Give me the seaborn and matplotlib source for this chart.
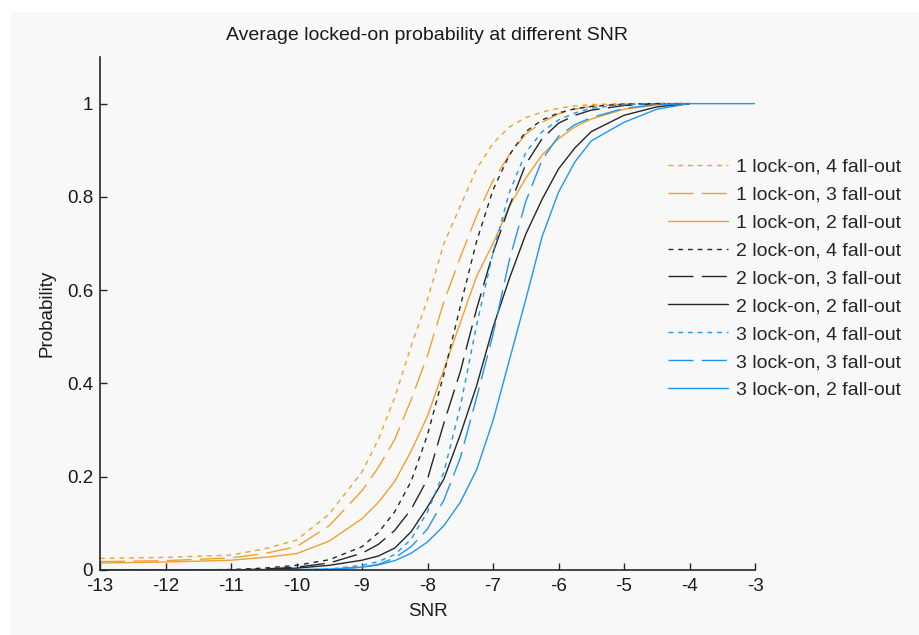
import matplotlib
matplotlib.use("Agg")
import matplotlib.pyplot as plt
from matplotlib.patches import Rectangle
import seaborn as sns
import pandas as pd

sns.set_theme(style="white")
plt.rcParams["font.family"] = ["Liberation Sans", "DejaVu Sans"]

# SNR grid (dB) shared by all curves; the last curve runs on to -3
snr = [-13, -12, -11, -10.5, -10, -9.5, -9, -8.75, -8.5, -8.25, -8, -7.75, -7.5,
       -7.25, -7, -6.75, -6.5, -6.25, -6, -5.75, -5.5, -5, -4.5, -4]
snr_long = snr + [-3]

p_1on_4out = [0.025, 0.027, 0.032, 0.045, 0.064, 0.12, 0.21, 0.28, 0.37, 0.48, 0.58, 0.70, 0.78,
              0.86, 0.915, 0.95, 0.97, 0.982, 0.99, 0.995, 0.998, 1.0, 1.0, 1.0]
p_1on_3out = [0.018, 0.02, 0.026, 0.035, 0.05, 0.095, 0.17, 0.22, 0.28, 0.365, 0.46, 0.575, 0.67,
              0.76, 0.835, 0.89, 0.935, 0.96, 0.978, 0.988, 0.994, 0.999, 1.0, 1.0]
p_1on_2out = [0.015, 0.017, 0.021, 0.027, 0.035, 0.062, 0.11, 0.145, 0.19, 0.255, 0.33, 0.43, 0.53,
              0.63, 0.70, 0.78, 0.84, 0.89, 0.925, 0.95, 0.967, 0.988, 0.997, 1.0]
p_2on_4out = [0.0, 0.0, 0.001, 0.004, 0.01, 0.022, 0.05, 0.08, 0.125, 0.19, 0.29, 0.42, 0.565,
              0.705, 0.815, 0.89, 0.94, 0.965, 0.98, 0.989, 0.994, 0.999, 1.0, 1.0]
p_2on_3out = [0.0, 0.0, 0.0, 0.002, 0.006, 0.015, 0.036, 0.055, 0.085, 0.13, 0.195, 0.315, 0.425,
              0.56, 0.68, 0.78, 0.87, 0.925, 0.958, 0.975, 0.986, 0.996, 1.0, 1.0]
p_2on_2out = [0.0, 0.0, 0.0, 0.001, 0.004, 0.01, 0.021, 0.03, 0.047, 0.082, 0.135, 0.195, 0.29,
              0.395, 0.52, 0.625, 0.72, 0.795, 0.86, 0.905, 0.94, 0.975, 0.993, 1.0]
p_3on_4out = [0.0, 0.0, 0.0, 0.0, 0.0, 0.002, 0.01, 0.018, 0.033, 0.066, 0.125, 0.21, 0.35,
              0.525, 0.68, 0.81, 0.895, 0.94, 0.965, 0.98, 0.99, 0.998, 1.0, 1.0]
p_3on_3out = [0.0, 0.0, 0.0, 0.0, 0.0, 0.001, 0.006, 0.012, 0.026, 0.05, 0.088, 0.15, 0.24,
              0.37, 0.505, 0.665, 0.79, 0.88, 0.93, 0.955, 0.97, 0.99, 0.998, 1.0]
p_3on_2out = [0.0, 0.0, 0.0, 0.0, 0.001, 0.002, 0.006, 0.011, 0.02, 0.036, 0.06, 0.095, 0.145,
              0.215, 0.32, 0.45, 0.58, 0.715, 0.81, 0.875, 0.92, 0.96, 0.988, 1.0, 1.0]

labels = ["1 lock-on, 4 fall-out", "1 lock-on, 3 fall-out", "1 lock-on, 2 fall-out",
          "2 lock-on, 4 fall-out", "2 lock-on, 3 fall-out", "2 lock-on, 2 fall-out",
          "3 lock-on, 4 fall-out", "3 lock-on, 3 fall-out", "3 lock-on, 2 fall-out"]
series = [p_1on_4out, p_1on_3out, p_1on_2out, p_2on_4out, p_2on_3out, p_2on_2out,
          p_3on_4out, p_3on_3out, p_3on_2out]

ORANGE, BLACK, BLUE = "#F0A030", "#262626", "#2196F0"
colors = [ORANGE] * 3 + [BLACK] * 3 + [BLUE] * 3
DOT, DASH, SOLID = (0, (3.5, 3.5)), (0, (18, 6)), "-"
styles = [DOT, DASH, SOLID] * 3

fig = plt.figure(figsize=(9.2, 6.35), dpi=100, facecolor="white")
# light grey panel, leaving a thin white strip at the top and left like the screenshot
fig.patches.append(Rectangle((11 / 920, 0), 1, 1 - 12 / 635, transform=fig.transFigure,
                             facecolor="#f8f8f8", edgecolor="none", zorder=-10))
ax = fig.add_axes([100 / 920, 1 - 570 / 635, 655 / 920, 513 / 635])
ax.set_facecolor("none")

for lab, p, c, ls in zip(labels, series, colors, styles):
    x = snr_long if len(p) == len(snr_long) else snr
    df = pd.DataFrame({"SNR": x, "Probability": p})
    sns.lineplot(data=df, x="SNR", y="Probability", ax=ax, color=c, linestyle=ls,
                 linewidth=1.0, label=lab, estimator=None, sort=False)

ax.set_xlim(-13, -3)
ax.set_ylim(0, 1.1)
ax.set_xticks(range(-13, -2))
ax.set_xticklabels([str(v) for v in range(-13, -2)])
ax.set_yticks([0, 0.2, 0.4, 0.6, 0.8, 1.0])
ax.set_yticklabels(["0", "0.2", "0.4", "0.6", "0.8", "1"])
ax.tick_params(bottom=True, left=True, direction="in", length=5, width=1.0, colors="#262626",
               labelsize=13.5, labelcolor="#1a1a1a")
ax.tick_params(axis="y", pad=5)
ax.tick_params(axis="x", pad=6)
sns.despine(ax=ax)
for s in ["left", "bottom"]:
    ax.spines[s].set_color("#262626")
    ax.spines[s].set_linewidth(1.2)

ax.set_xlabel("SNR", fontsize=13.5, color="#1a1a1a")
ax.set_ylabel("Probability", fontsize=13.5, color="#1a1a1a")
ax.xaxis.set_label_coords(0.5, -0.064)
ax.yaxis.set_label_coords(-0.068, 0.5)
fig.text(427.5 / 920, 1 - 36 / 635, "Average locked-on probability at different SNR",
         ha="center", va="center", fontsize=14, color="#1a1a1a")

ax.legend(loc="upper left", bbox_to_anchor=((668 - 100) / 655, (570 - 158) / 513),
          frameon=False, fontsize=14, handlelength=3.1, handletextpad=0.4,
          labelspacing=0.53, borderpad=0, borderaxespad=0)

fig.savefig("out.png", dpi=100, facecolor=fig.get_facecolor())
